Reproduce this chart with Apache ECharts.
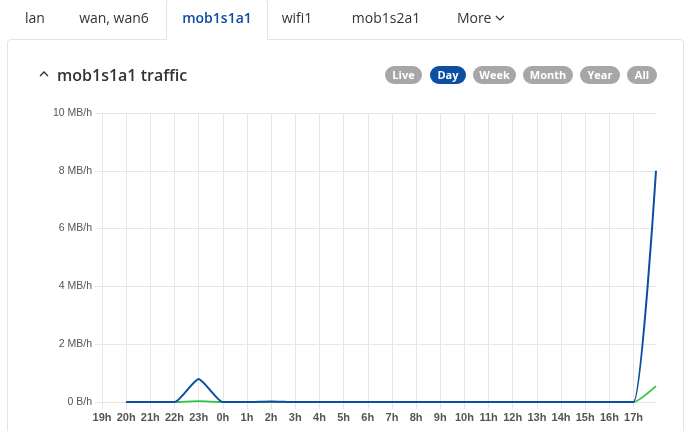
<!DOCTYPE html>
<html>
<head>
<meta charset="utf-8">
<script src="https://cdn.jsdelivr.net/npm/echarts@6/dist/echarts.min.js"></script>
<style>
  html, body { margin: 0; padding: 0; width: 690px; height: 431px; overflow: hidden; background: #fff; font-family: "Open Sans", "Noto Sans", sans-serif; }
  #card { position: absolute; left: 7px; top: 39px; width: 677px; height: 420px; border: 1px solid #e4e4e4; border-radius: 4px; box-sizing: border-box; }
  #activeTab { position: absolute; left: 166px; top: -1px; width: 102px; height: 41px; border: 1px solid #e4e4e4; border-bottom: none; border-radius: 4px 4px 0 0; background: #fff; box-sizing: border-box; z-index: 2; }
  .tab { position: absolute; top: 8px; font-size: 14px; color: #333; white-space: nowrap; transform: translateX(-50%); z-index: 3; }
  .tab.active { color: #0b4ea2; font-weight: 600; }
  #title { position: absolute; left: 38px; top: 64px; font-size: 16px; font-weight: 600; color: #333; white-space: nowrap; z-index: 3; }
  .pill { position: absolute; top: 66px; height: 18px; line-height: 18px; border-radius: 9px; background: #a7a7a7; color: #fff; font-size: 11px; font-weight: 700; text-align: center; z-index: 3; }
  .pill.on { background: #0b4ea2; }
  #chart { position: absolute; left: 0; top: 0; width: 690px; height: 431px; z-index: 1; }
</style>
</head>
<body>
<div id="card"></div>
<div id="activeTab"></div>
<div class="tab" style="left:35px">lan</div>
<div class="tab" style="left:114px">wan, wan6</div>
<div class="tab active" style="left:217px">mob1s1a1</div>
<div class="tab" style="left:297px">wifi1</div>
<div class="tab" style="left:386px">mob1s2a1</div>
<div class="tab" style="left:481px">More <svg width="10" height="8" viewBox="0 0 10 8" style="vertical-align:1px"><path d="M1 2 L5 6 L9 2" fill="none" stroke="#333" stroke-width="1.2"/></svg></div>
<div id="title"><svg width="12" height="10" viewBox="0 0 12 10" style="margin-right:7px;vertical-align:2px"><path d="M2 7 L6 3 L10 7" fill="none" stroke="#333" stroke-width="1.4"/></svg>mob1s1a1 traffic</div>
<div class="pill" style="left:385px;width:37px">Live</div>
<div class="pill on" style="left:430px;width:36px">Day</div>
<div class="pill" style="left:473px;width:43px">Week</div>
<div class="pill" style="left:523px;width:50px">Month</div>
<div class="pill" style="left:580px;width:40px">Year</div>
<div class="pill" style="left:627px;width:30px">All</div>
<div id="chart"></div>
<script>
// x positions: hours elapsed since 19h (start of the day window)
const hourOffsets = [1, 2, 3, 4, 5, 6, 7, 8, 9, 10, 11, 12, 13, 14, 15, 16, 17, 18, 19, 20, 21, 22, 22.93];
// received traffic, MB/h (blue)
const rxValues = [0, 0, 0, 0.8, 0, 0, 0.02, 0, 0, 0, 0, 0, 0, 0, 0, 0, 0, 0, 0, 0, 0, 0, 8.0];
// transmitted traffic, MB/h (green)
const txValues = [0, 0, 0, 0.03, 0, 0, 0, 0, 0, 0, 0, 0, 0, 0, 0, 0, 0, 0, 0, 0, 0, 0, 0.55];
const startHour = 19;
const yTicks = [0, 2, 4, 6, 8, 10];

const pair = (vals) => hourOffsets.map((x, i) => [x, vals[i]]);
const gridColor = '#e6e6e6';

const chart = echarts.init(document.getElementById('chart'), null, { renderer: 'canvas' });
chart.setOption({
  animation: false,
  grid: { left: 102, right: 34, top: 113, bottom: 29 },
  xAxis: {
    type: 'value', min: 0, max: 22.93, interval: 1,
    axisLine: { show: true, lineStyle: { color: gridColor } },
    axisTick: { show: true, length: 7, lineStyle: { color: gridColor } },
    splitLine: { show: true, showMaxLine: false, lineStyle: { color: gridColor } },
    axisLabel: {
      showMaxLabel: false, margin: 10, color: '#555', fontSize: 11, fontWeight: 'bold',
      fontFamily: 'Liberation Sans, Arial, sans-serif',
      formatter: (v) => Number.isInteger(v) ? ((startHour + v) % 24) + 'h' : ''
    }
  },
  yAxis: {
    type: 'value', min: yTicks[0], max: yTicks[yTicks.length - 1], interval: 2,
    axisLine: { show: false },
    axisTick: { show: true, length: 7, lineStyle: { color: gridColor } },
    splitLine: { show: true, lineStyle: { color: gridColor } },
    axisLabel: {
      margin: 10, color: '#555', fontSize: 10.5,
      fontFamily: 'Liberation Sans, Arial, sans-serif',
      formatter: (v) => v === 0 ? '0 B/h' : v + ' MB/h'
    }
  },
  series: [
    { name: 'tx', type: 'line', data: pair(txValues), smooth: 0.18, symbol: 'none', lineStyle: { color: '#2fc34a', width: 1.8 }, z: 2 },
    { name: 'rx', type: 'line', data: pair(rxValues), smooth: 0.18, symbol: 'none', lineStyle: { color: '#0b4ea2', width: 2 }, z: 3 }
  ]
});
</script>
</body>
</html>
